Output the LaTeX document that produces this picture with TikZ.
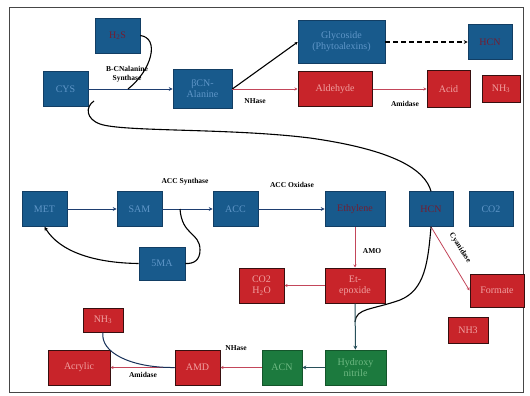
\documentclass[tikz,border=0pt]{standalone}
\usepackage{fontspec}
\setmainfont{Liberation Serif}
\usetikzlibrary{arrows.meta}
\definecolor{nblue}{RGB}{24,90,140}
\definecolor{nbluedark}{RGB}{18,62,100}
\definecolor{nbluetext}{RGB}{95,150,200}
\definecolor{nred}{RGB}{200,36,42}
\definecolor{nredborder}{RGB}{55,15,15}
\definecolor{nredtext}{RGB}{240,160,160}
\definecolor{ngreen}{RGB}{28,122,62}
\definecolor{ngreentext}{RGB}{110,185,130}
\definecolor{darkredtext}{RGB}{115,30,50}
\definecolor{arrblue}{RGB}{30,62,112}
\definecolor{arrred}{RGB}{195,70,90}
\definecolor{arrteal}{RGB}{40,80,90}
\definecolor{framecol}{RGB}{70,70,70}
\begin{document}
\begin{tikzpicture}[x=1pt,y=-1pt,
  box/.style={rectangle, inner sep=1pt, align=center, font=\fontsize{10}{11}\selectfont, line width=0.6pt},
  bluebox/.style={box, fill=nblue, draw=nbluedark, text=nbluetext},
  bluedark/.style={box, fill=nblue, draw=nbluedark, text=darkredtext},
  redbox/.style={box, fill=nred, draw=nredborder, line width=1pt, text=nredtext},
  greenbox/.style={box, fill=ngreen, draw=ngreen!70!black, text=ngreentext},
  lbl/.style={font=\bfseries\fontsize{7.5}{8.5}\selectfont, align=center, inner sep=0.5pt},
  barr/.style={draw=arrblue, line width=1pt, -{Stealth[length=4pt,width=4pt]}},
  rarr/.style={draw=arrred, line width=0.8pt, -{Stealth[length=3pt,width=3pt]}},
  kline/.style={draw=black, line width=1.1pt},
]
\useasboundingbox (0,0) rectangle (530,396);
\draw[framecol, line width=0.7pt] (9,7) rectangle (523,392);

% top block
\node[bluedark, minimum width=45pt, minimum height=35pt] (h2s) at (117.5,35.5) {H\textsubscript{2}S};
\node[bluebox, minimum width=45pt, minimum height=35pt] (cys) at (65.5,89) {CYS};
\node[bluebox, minimum width=59pt, minimum height=39pt] (bcn) at (202.5,89) {βCN-\\Alanine};
\node[bluebox, minimum width=87pt, minimum height=43pt] (glyc) at (341.5,42) {Glycoside\\(Phytoalexins)};
\node[bluedark, minimum width=44pt, minimum height=35pt] (hcn1) at (490,42) {HCN};
\node[redbox, minimum width=74pt, minimum height=35pt] (ald) at (335,89) {Aldehyde};
\node[redbox, minimum width=43pt, minimum height=36pt] (acid) at (448.5,89) {Acid};
\node[redbox, minimum width=38pt, minimum height=26pt] (nh3a) at (501,89) {NH\textsubscript{3}};

% middle block
\node[bluebox, minimum width=45pt, minimum height=35pt] (met) at (44.5,209) {MET};
\node[bluebox, minimum width=45pt, minimum height=35pt] (sam) at (139.5,209) {SAM};
\node[bluebox, minimum width=45pt, minimum height=35pt] (acc) at (235.5,209) {ACC};
\node[bluebox, minimum width=46pt, minimum height=33pt] (ma5) at (162,263.5) {5MA};
\node[bluedark, minimum width=60pt, minimum height=35pt] (eth) at (355,209) {Ethylene};
\node[bluedark, minimum width=44pt, minimum height=35pt] (hcn2) at (431,209) {HCN};
\node[bluebox, minimum width=44pt, minimum height=35pt] (co2) at (491,209) {CO2};
\node[redbox, minimum width=60pt, minimum height=35pt] (etep) at (355,285.5) {Et-\\epoxide};
\node[redbox, minimum width=45pt, minimum height=35pt] (co2h2o) at (261.5,285.5) {CO2\\H\textsubscript{2}O};
\node[redbox, minimum width=54pt, minimum height=33pt] (formate) at (497,290.5) {Formate};
\node[redbox, minimum width=40pt, minimum height=26pt] (nh3c) at (468,330) {NH3};

% bottom block
\node[greenbox, minimum width=61pt, minimum height=35pt] (hydr) at (355.5,367.5) {Hydroxy\\nitrile};
\node[greenbox, minimum width=40pt, minimum height=35pt] (acn) at (282,367.5) {ACN};
\node[redbox, minimum width=45pt, minimum height=35pt] (amd) at (197.5,367.5) {AMD};
\node[redbox, minimum width=62pt, minimum height=35pt] (acrylic) at (79,367.5) {Acrylic};
\node[redbox, minimum width=40pt, minimum height=24pt] (nh3b) at (103,320) {NH\textsubscript{3}};

% coordinates
\coordinate (j1) at (128,89);
\coordinate (loopend) at (94,101);
\coordinate (j2) at (355,322);
\coordinate (j3) at (180,209);

% top connectors
\draw[barr] (cys) -- (bcn);
\draw[kline] (h2s.east) .. controls (160,38) and (152,70) .. (j1);
\node[lbl] (lbs) at (127,74) {B-CNalanine\\Synthase};
\draw[kline, -{Stealth[length=3pt,width=3pt]}] (bcn.east) -- (glyc.west);
\draw[rarr] (bcn.east) -- (ald.west);
\node[lbl] (lnh1) at (255,101) {NHase};
\draw[rarr] (ald.east) -- (acid.west);
\node[lbl] (lam1) at (405,104) {Amidase};
\draw[draw=black, line width=1.6pt, dash pattern=on 5pt off 3pt, -{Stealth[length=4pt,width=4pt]}] (glyc.east) -- (hcn1.west);

% big loop
\draw[kline] (hcn2.north) .. controls (425,170) and (395,150) .. (310,138)
  .. controls (230,128) and (122,132) .. (100,124)
  .. controls (86,119) and (85,107) .. (loopend);

% middle connectors
\draw[barr] (met) -- (sam);
\draw[barr] (sam) -- (acc);
\node[lbl] (lacs) at (185,182) {ACC Synthase};
\draw[barr] (acc) -- (eth);
\node[lbl] (laco) at (292,185) {ACC Oxidase};
\draw[kline] (j3) .. controls (182,236) and (200,232) .. (200,250)
  .. controls (200,260) and (194,264) .. (ma5.east);
\draw[kline, -{Stealth[length=4pt,width=4pt]}] (ma5.west) .. controls (95,263) and (60,252) .. (met.south);
\draw[rarr] (eth) -- (etep);
\node[lbl] (lamo) at (372,251) {AMO};
\draw[rarr] (etep) -- (co2h2o);
\draw[rarr] (hcn2.south) -- (formate.west);
\node[lbl, rotate=-57] (lcy) at (460,248) {Cyanidase};
\draw[kline] (hcn2.south) .. controls (428,262) and (425,290) .. (400,300)
  .. controls (372,310) and (356,308) .. (j2);
\draw[draw=arrteal, line width=1pt, -{Stealth[length=4pt,width=4pt]}] (etep) -- (hydr);

% bottom connectors
\draw[draw=arrteal, line width=1pt, -{Stealth[length=4pt,width=4pt]}] (hydr) -- (acn);
\draw[rarr] (acn) -- (amd);
\node[lbl] (lnh2) at (236,348) {NHase};
\draw[rarr] (amd) -- (acrylic);
\node[lbl] (lam2) at (143,375) {Amidase};
\draw[draw=arrblue!80!black, line width=1pt] (amd.west) .. controls (130,368) and (100,352) .. (nh3b.south);
\end{tikzpicture}
\end{document}
